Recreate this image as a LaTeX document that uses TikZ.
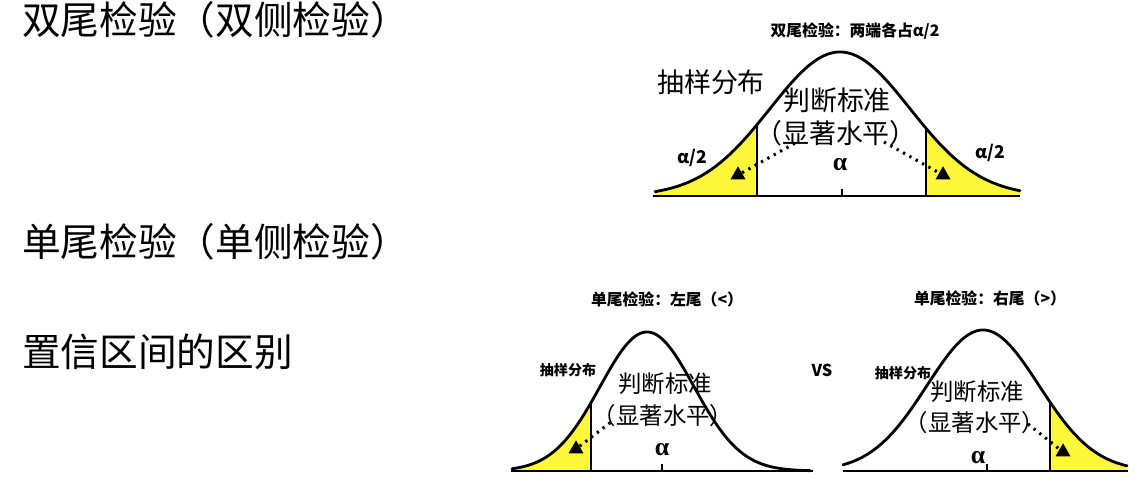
\documentclass[tikz,border=0pt]{standalone}
\usepackage{fontspec}
\usepackage{tikz}
\usetikzlibrary{shapes.geometric}
\newfontfamily\cjk{Noto Sans CJK SC}
\newfontfamily\grk{Liberation Serif}
\definecolor{tailyel}{HTML}{FFF83A}
\definecolor{ink}{HTML}{000000}

\begin{document}
\begin{tikzpicture}[x=0.03cm,y=-0.03cm,
  declare function={gtop(\x)=196-144*exp(-((\x-840)/70)^2/2);
                    gleft(\x)=471-139*exp(-((\x-647)/47)^2/2);
                    gright(\x)=471-141*exp(-((\x-983)/56)^2/2);},
  head/.style={font=\cjk\fontsize{33}{38}\selectfont,text=ink,anchor=west,inner sep=0pt},
  ttl/.style={font=\cjk\bfseries\fontsize{13.5}{16}\selectfont,text=ink,inner sep=0pt},
  lab/.style={font=\cjk\fontsize{23}{27}\selectfont,text=ink,inner sep=0pt},
  labs/.style={font=\cjk\bfseries\fontsize{12}{14}\selectfont,text=ink,inner sep=0pt},
  mid/.style={font=\cjk\fontsize{23}{27}\selectfont,text=ink,inner sep=0pt},
  mids/.style={font=\cjk\fontsize{20}{24}\selectfont,text=ink,inner sep=0pt},
  hlf/.style={font=\cjk\bfseries\fontsize{15}{18}\selectfont,text=ink,inner sep=0pt},
  alp/.style={font=\grk\bfseries\fontsize{22}{26}\selectfont,text=ink,inner sep=0pt},
  tri/.style={regular polygon,regular polygon sides=3,fill=ink,inner sep=0pt,minimum size=0.52cm},
  curve/.style={draw=ink,line width=2.4pt,line join=round,line cap=round},
  crit/.style={draw=ink,line width=1.4pt},
  axis/.style={draw=ink,line width=1.6pt},
  dots/.style={draw=ink,line width=2.6pt,dash pattern=on 2pt off 4.2pt}]
\useasboundingbox (0,0) rectangle (1141,485);
% headings on the left
\node[head] (h1) at (22,20) {双尾检验（双侧检验）};
\node[head] (h2) at (22,242) {单尾检验（单侧检验）};
\node[head] (h3) at (22,352) {置信区间的区别};
% two-tailed test
\node[ttl] (t1) at (855,31) {双尾检验：两端各占α/2};
\fill[tailyel] (655,196) -- plot[domain=655:757,samples=40] (\x,{gtop(\x)}) -- (757,196) -- cycle;
\fill[tailyel] (926,196) -- plot[domain=926:1020,samples=40] (\x,{gtop(\x)}) -- (1020,196) -- cycle;
\draw[crit] (757,196) -- (757,{gtop(757)});
\draw[crit] (926,196) -- (926,{gtop(926)});
\draw[curve] plot[domain=655:1020,samples=150] (\x,{gtop(\x)});
\draw[axis] (653,196) -- (1020,196);
\draw[axis] (842,196) -- (842,189);
\node[lab] (d1) at (711,82) {抽样分布};
\node[mid] (j1) at (837,100) {判断标准};
\node[mid] (s1) at (836,133) {（显著水平）};
\node[hlf] (a1l) at (692,158) {α/2};
\node[hlf] (a1r) at (990,153) {α/2};
\node[alp] (a1) at (840,165) {α};
\node[tri] (k1l) at (738,175) {};
\node[tri] (k1r) at (943,175) {};
\coordinate (p1l) at (797,142);
\coordinate (p1r) at (884,142);
\draw[dots] (k1l) -- (p1l);
\draw[dots] (p1r) -- (k1r);
% one-tailed test, left tail
\node[ttl] (t2) at (667,299) {单尾检验：左尾（<）};
\fill[tailyel] (512,471) -- plot[domain=512:591,samples=40] (\x,{gleft(\x)}) -- (591,471) -- cycle;
\draw[crit] (591,471) -- (591,{gleft(591)});
\draw[curve] plot[domain=512:810,samples=150] (\x,{gleft(\x)});
\draw[axis] (511,471) -- (813,471);
\draw[axis] (662,471) -- (662,464);
\node[labs] (d2) at (568,370) {抽样分布};
\node[mids] (j2) at (665,384) {判断标准};
\node[mids] (s2) at (663,416) {（显著水平）};
\node[alp] (a2) at (662,450) {α};
\node[tri] (k2) at (576,449) {};
\coordinate (p2) at (611,422);
\draw[dots] (k2) -- (p2);
\node[labs,font=\cjk\bfseries\fontsize{14}{16}\selectfont] (vs) at (822,370) {VS};
% one-tailed test, right tail
\node[ttl] (t3) at (990,298) {单尾检验：右尾（>）};
\fill[tailyel] (1050,471) -- plot[domain=1050:1127,samples=40] (\x,{gright(\x)}) -- (1127,471) -- cycle;
\draw[crit] (1050,471) -- (1050,{gright(1050)});
\draw[curve] plot[domain=843:1127,samples=150] (\x,{gright(\x)});
\draw[axis] (843,471) -- (1128,471);
\draw[axis] (987,471) -- (987,464);
\node[labs] (d3) at (903,373) {抽样分布};
\node[mids] (j3) at (977,392) {判断标准};
\node[mids] (s3) at (975,423) {（显著水平）};
\node[alp] (a3) at (978,458) {α};
\node[tri] (k3) at (1063,452) {};
\coordinate (p3) at (1028,424);
\draw[dots] (p3) -- (k3);
\end{tikzpicture}
\end{document}
